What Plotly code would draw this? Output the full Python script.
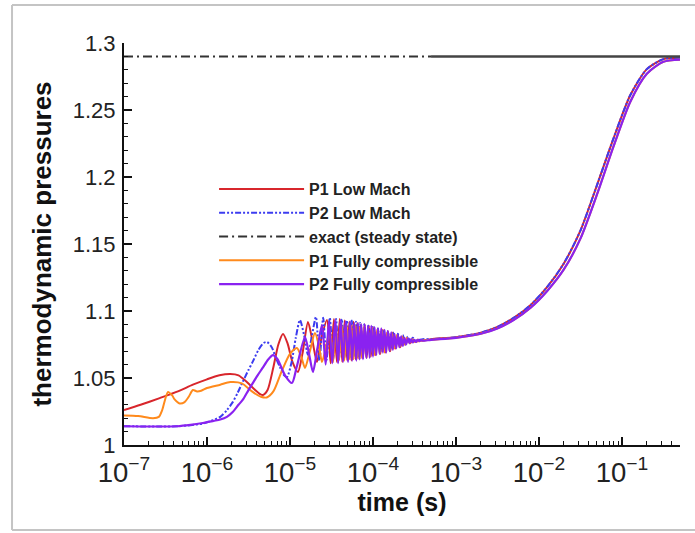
import plotly.graph_objects as go

# ---- data (time given as log10 of seconds, pressure dimensionless) ----
red_logt = [-7.0, -6.8, -6.57, -6.35, -6.17, -6.0, -5.85, -5.72, -5.62, -5.52, -5.42, -5.36, -5.325,
            -5.27, -5.2, -5.14, -5.084, -5.03, -4.97, -4.904, -4.85, -4.783, -4.73, -4.675, -4.62, -4.554,
            -4.51, -4.47, -4.435, -4.40, -4.37, -4.34, -4.31, -4.285, -4.26, -4.235, -4.21, -4.19, -4.165,
            -4.145, -4.12, -4.10, -4.075, -4.05, -4.025, -4.0, -3.97, -3.94, -3.91, -3.88, -3.85, -3.82,
            -3.79, -3.76, -3.73, -3.70, -3.67, -3.64, -3.61, -3.58, -3.55, -3.52, -3.49, -3.46, -3.4]
red_p = [1.026, 1.030, 1.035, 1.040, 1.045, 1.049, 1.052, 1.053, 1.052, 1.047, 1.041, 1.038, 1.0373,
         1.041, 1.058, 1.075, 1.0828, 1.076, 1.062, 1.0545, 1.068, 1.0918, 1.078, 1.062, 1.080, 1.0933,
         1.061, 1.094, 1.062, 1.094, 1.062, 1.093, 1.063, 1.092, 1.063, 1.092, 1.064, 1.091, 1.064,
         1.090, 1.065, 1.090, 1.065, 1.089, 1.066, 1.088, 1.067, 1.087, 1.068, 1.086, 1.069, 1.085,
         1.070, 1.084, 1.072, 1.082, 1.073, 1.081, 1.075, 1.0795, 1.076, 1.079, 1.077, 1.0785, 1.078]

blue_logt = [-7.0, -6.6, -6.36, -6.2, -6.05, -5.95, -5.84, -5.76, -5.69, -5.63, -5.57, -5.5, -5.45,
             -5.38, -5.32, -5.277, -5.22, -5.17, -5.12, -5.07, -5.036, -4.98, -4.93, -4.88, -4.83,
             -4.783, -4.74, -4.687, -4.645, -4.60, -4.56, -4.52, -4.48, -4.445, -4.41, -4.375, -4.345,
             -4.315, -4.285, -4.255, -4.23, -4.205, -4.18, -4.155, -4.13, -4.105, -4.08, -4.055, -4.03,
             -4.0, -3.97, -3.94, -3.91, -3.88, -3.85, -3.82, -3.79, -3.76, -3.73, -3.70, -3.67, -3.64,
             -3.61, -3.58, -3.55, -3.52, -3.49, -3.4]
blue_p = [1.014, 1.0138, 1.014, 1.0148, 1.016, 1.018, 1.021, 1.026, 1.032, 1.039, 1.047, 1.056, 1.062,
          1.071, 1.076, 1.0769, 1.073, 1.065, 1.058, 1.052, 1.0507, 1.062, 1.080, 1.0933, 1.082,
          1.0672, 1.080, 1.0955, 1.063, 1.095, 1.063, 1.095, 1.064, 1.094, 1.064, 1.094, 1.065,
          1.093, 1.065, 1.093, 1.066, 1.092, 1.066, 1.091, 1.067, 1.090, 1.067, 1.089, 1.068,
          1.088, 1.069, 1.087, 1.070, 1.086, 1.071, 1.085, 1.072, 1.084, 1.073, 1.083, 1.074, 1.082,
          1.075, 1.081, 1.077, 1.080, 1.078, 1.079]

orange_logt = [-7.0, -6.83, -6.65, -6.58, -6.54, -6.47, -6.42, -6.39, -6.33, -6.27, -6.22, -6.17,
               -6.12, -6.07, -6.0, -5.84, -5.72, -5.58, -5.45, -5.35, -5.28, -5.2, -5.1, -5.0, -4.916,
               -4.86, -4.819, -4.76, -4.699, -4.65, -4.614, -4.56, -4.518,
               -4.48, -4.445, -4.41, -4.375, -4.345, -4.315, -4.285, -4.26, -4.235, -4.21, -4.185,
               -4.16, -4.135, -4.11, -4.085, -4.06, -4.035, -4.01, -3.98, -3.95, -3.92, -3.89, -3.86,
               -3.83, -3.80, -3.77, -3.74, -3.71, -3.68, -3.65, -3.62, -3.59, -3.56, -3.53, -3.50, -3.4]
orange_p = [1.022, 1.0216, 1.020, 1.021, 1.026, 1.0396, 1.037, 1.034, 1.031, 1.032, 1.036, 1.041,
            1.040, 1.0405, 1.0425, 1.045, 1.047, 1.046, 1.0396, 1.036, 1.0355, 1.040, 1.055, 1.068, 1.0724,
            1.065, 1.0575, 1.070, 1.0836, 1.074, 1.062, 1.075, 1.0858,
            1.062, 1.088, 1.063, 1.089, 1.063, 1.089, 1.064, 1.089, 1.064, 1.089, 1.065,
            1.088, 1.065, 1.088, 1.066, 1.087, 1.066, 1.087, 1.067, 1.086, 1.068, 1.085, 1.069,
            1.084, 1.070, 1.083, 1.072, 1.082, 1.073, 1.081, 1.075, 1.080, 1.076, 1.079, 1.077, 1.078]

purple_logt = [-7.0, -6.6, -6.36, -6.2, -6.05, -5.92, -5.84, -5.76, -5.69, -5.62, -5.57, -5.5, -5.45,
               -5.39, -5.33, -5.26, -5.205, -5.15, -5.06, -4.976, -4.92, -4.819, -4.77, -4.723, -4.67,
               -4.614, -4.57, -4.53, -4.49, -4.455, -4.42, -4.39, -4.36, -4.33, -4.30, -4.275, -4.25,
               -4.225, -4.20, -4.18, -4.16, -4.14, -4.12, -4.10, -4.08, -4.06, -4.04, -4.02, -4.00,
               -3.98, -3.96, -3.94, -3.92, -3.90, -3.88, -3.86, -3.84, -3.82, -3.80, -3.78, -3.76,
               -3.74, -3.72, -3.70, -3.68, -3.66, -3.64, -3.62, -3.60, -3.58, -3.56, -3.54, -3.52,
               -3.50, -3.48, -3.46, -3.44, -3.42, -3.40]
purple_p = [1.014, 1.0138, 1.014, 1.015, 1.0164, 1.018, 1.019, 1.021, 1.0246, 1.030, 1.0336, 1.041, 1.046,
            1.052, 1.0575, 1.064, 1.067, 1.064, 1.052, 1.0463, 1.058, 1.0806, 1.068, 1.0545, 1.072,
            1.0896, 1.060, 1.092, 1.061, 1.093, 1.061, 1.093, 1.062, 1.092, 1.062, 1.092, 1.063,
            1.091, 1.063, 1.091, 1.064, 1.090, 1.064, 1.090, 1.065, 1.089, 1.065, 1.089, 1.066,
            1.088, 1.067, 1.087, 1.068, 1.087, 1.069, 1.086, 1.069, 1.085, 1.070, 1.084, 1.071,
            1.083, 1.072, 1.082, 1.073, 1.081, 1.074, 1.080, 1.075, 1.0795, 1.076, 1.079, 1.0765,
            1.0785, 1.077, 1.0785, 1.0775, 1.0782, 1.0778]

# slow rise to steady state (shared tail)
late_logt = [-3.3, -3.0, -2.7, -2.5, -2.3, -2.1, -1.9, -1.7, -1.5, -1.3, -1.1, -0.9, -0.7, -0.5, -0.3]
lowmach_late_p = [1.0790, 1.0805, 1.0838, 1.0882, 1.0950, 1.1045, 1.1180, 1.1355, 1.1600, 1.1940,
                  1.2290, 1.2610, 1.2805, 1.2880, 1.2890]
compr_late_p = [1.0785, 1.0800, 1.0830, 1.0870, 1.0935, 1.1025, 1.1150, 1.1310, 1.1540, 1.1870,
                1.2230, 1.2560, 1.2770, 1.2860, 1.2875]

exact_p = 1.29
exact_logt_dashed = [-7.0, -3.3]
exact_logt_solid = [-3.3, -0.3]

series_names = ["P1 Low Mach", "P2 Low Mach", "exact (steady state)", "P1 Fully compressible",
                "P2 Fully compressible"]


def to_seconds(exps):
    return [10 ** e for e in exps]


FONT = "Arial, Liberation Sans, Helvetica, sans-serif"

fig = go.Figure()
fig.add_trace(go.Scatter(x=to_seconds(red_logt + late_logt), y=red_p + lowmach_late_p, mode="lines",
                         name=series_names[0],
                         line=dict(color="#d8262c", width=2, shape="spline", smoothing=0.7)))
fig.add_trace(go.Scatter(x=to_seconds(blue_logt + late_logt), y=blue_p + lowmach_late_p, mode="lines",
                         name=series_names[1],
                         line=dict(color="#3c3cf0", width=2, shape="spline", smoothing=0.7,
                                   dash="6px,2px,2px,2px,2px,2px")))
fig.add_trace(go.Scatter(x=to_seconds(exact_logt_dashed), y=[exact_p] * 2, mode="lines",
                         name=series_names[2],
                         line=dict(color="#333333", width=2, dash="9px,4px,2px,4px")))
fig.add_trace(go.Scatter(x=to_seconds(exact_logt_solid), y=[exact_p] * 2, mode="lines",
                         showlegend=False, line=dict(color="#444444", width=2.5)))
fig.add_trace(go.Scatter(x=to_seconds(orange_logt + late_logt), y=orange_p + compr_late_p, mode="lines",
                         name=series_names[3],
                         line=dict(color="#ff8a1c", width=2, shape="spline", smoothing=0.7)))
fig.add_trace(go.Scatter(x=to_seconds(purple_logt + late_logt), y=purple_p + compr_late_p, mode="lines",
                         name=series_names[4],
                         line=dict(color="#8a22f0", width=2.2, shape="spline", smoothing=0.7)))

frame = dict(color="#c4c4c4", width=2)
fig.update_layout(
    width=695, height=533,
    margin=dict(l=124, r=15, t=43, b=88),
    paper_bgcolor="white", plot_bgcolor="white",
    font=dict(family=FONT, color="#222222"),
    showlegend=True,
    legend=dict(x=0.162, y=0.679, xanchor="left", yanchor="top", bgcolor="rgba(0,0,0,0)",
                font=dict(size=16, weight="bold", color="#222222", family=FONT),
                itemwidth=85, tracegroupgap=0),
    xaxis=dict(type="log", range=[-7, -0.3], dtick=1, exponentformat="power",
               showline=True, linecolor="#111111", linewidth=2, mirror=False,
               ticks="inside", ticklen=8, tickwidth=1.5, tickcolor="#111111",
               minor=dict(ticks="inside", ticklen=4, tickwidth=1, tickcolor="#111111", dtick="D1",
                          showgrid=False),
               showgrid=False, zeroline=False,
               tickfont=dict(size=22, family=FONT, color="#222222"),
               ticklabelstandoff=3,
               title=dict(text="time (s)", font=dict(size=25, weight="bold", family=FONT, color="#111111"),
                          standoff=3)),
    yaxis=dict(range=[1, 1.3], dtick=0.05, tick0=1,
               showline=True, linecolor="#111111", linewidth=2, mirror=False,
               ticks="inside", ticklen=8, tickwidth=1.5, tickcolor="#111111",
               minor=dict(ticks="inside", ticklen=4, tickwidth=1, tickcolor="#111111", dtick=0.01,
                          showgrid=False),
               showgrid=False, zeroline=False,
               tickfont=dict(size=22, family=FONT, color="#222222"),
               ticklabelstandoff=2,
               title=dict(text="thermodynamic pressures",
                          font=dict(size=26, weight="bold", family=FONT, color="#111111"),
                          standoff=14)),
    shapes=[
        dict(type="line", xref="paper", yref="paper", x0=-0.2014, x1=-0.2014, y0=-0.2114, y1=1.0945,
             line=frame, layer="below"),
        dict(type="line", xref="paper", yref="paper", x0=-0.2014, x1=1.03, y0=1.0945, y1=1.0945,
             line=frame, layer="below"),
        dict(type="line", xref="paper", yref="paper", x0=-0.2014, x1=1.03, y0=-0.2114, y1=-0.2114,
             line=frame, layer="below"),
    ],
)

fig.write_html("out.html", config={"displayModeBar": False},
               post_script="document.body.style.margin='0px';")
